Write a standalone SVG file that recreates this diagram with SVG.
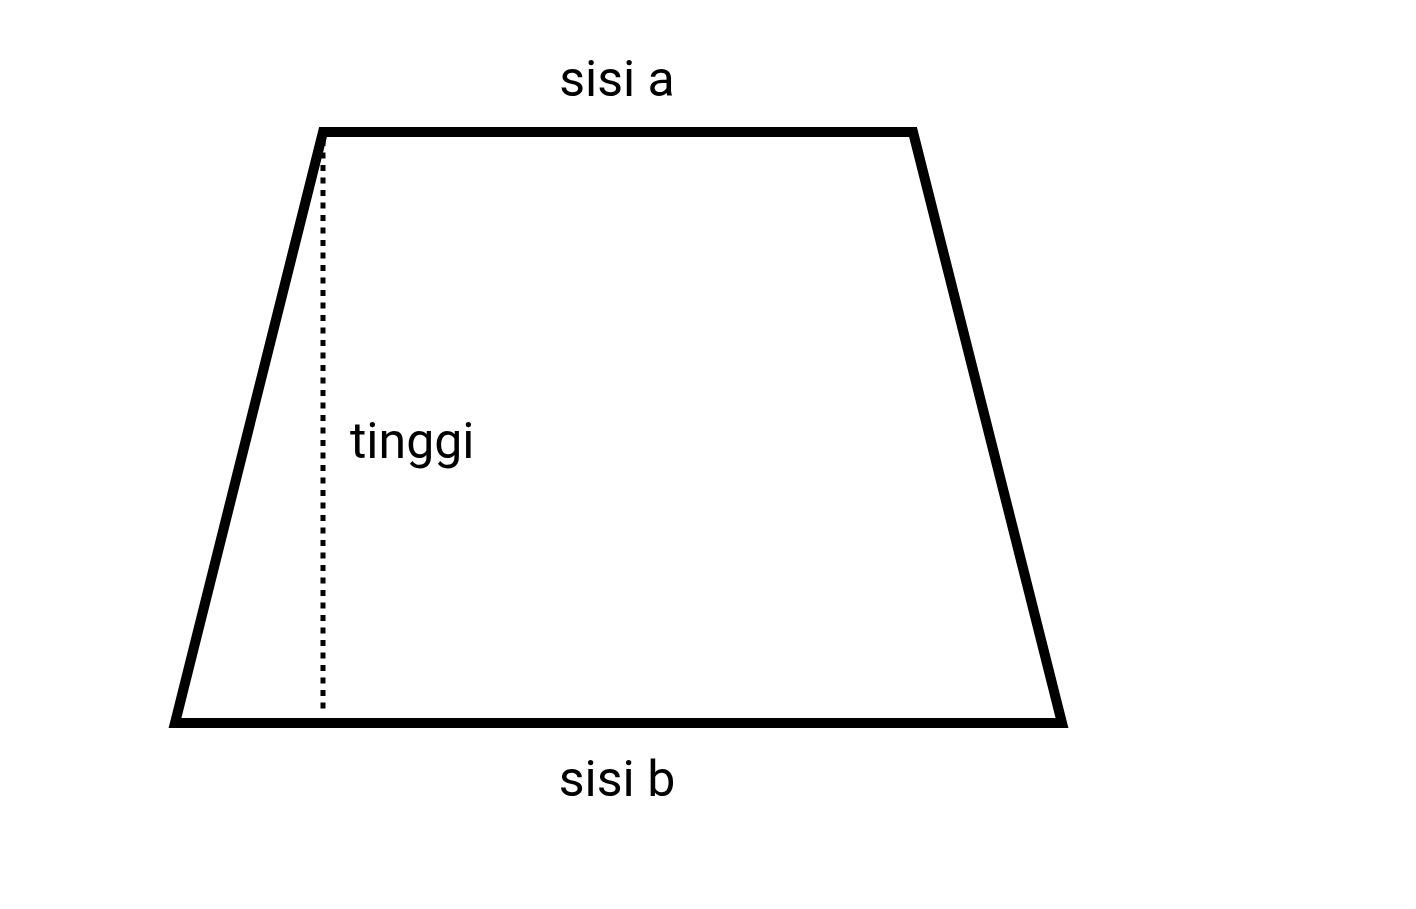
<svg xmlns="http://www.w3.org/2000/svg" width="1416" height="909" viewBox="0 0 1416 909">
<style>
.lbl{font-family:Roboto,"Liberation Sans",sans-serif;font-size:50px;fill:#000}
</style>
<rect width="1416" height="909" fill="#fff"/>
<g id="trapezoid">
<polygon points="323,132 913,132 1062,723 175,723" fill="none" stroke="#000" stroke-width="10" stroke-linejoin="miter"/>
</g>
<g id="connectors">
<line id="height" x1="323" y1="140" x2="323" y2="715" stroke="#000" stroke-width="5" stroke-dasharray="6,6.5"/>
</g>
<g id="label-a"><text class="lbl" x="617" y="96" text-anchor="middle">sisi a</text></g>
<g id="label-b"><text class="lbl" x="617" y="796" text-anchor="middle">sisi b</text></g>
<g id="label-h"><text class="lbl" x="350" y="458">tinggi</text></g>
</svg>
